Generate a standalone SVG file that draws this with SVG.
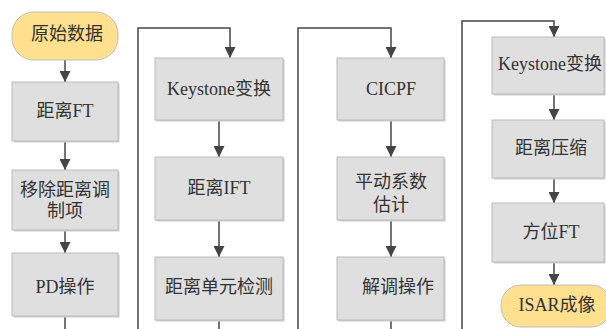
<svg xmlns="http://www.w3.org/2000/svg" width="606" height="329" viewBox="0 0 606 329">
<style>
.box{fill:#dfdfdf;stroke:#bcbcbc;stroke-width:1}
.sh{fill:#cdcdcd}
.term{fill:#ffe08e;stroke:#bdbdbd;stroke-width:1}
.t{font-family:"Liberation Serif","Noto Sans CJK SC",serif;font-size:18px;fill:#333;text-anchor:middle;dominant-baseline:central}
.c{fill:none;stroke:#444;stroke-width:1.5}
</style>
<defs>
<marker id="ah" markerUnits="userSpaceOnUse" markerWidth="11" markerHeight="11" refX="11" refY="5.5" orient="auto">
<path d="M0,0 L11,5.5 L0,11 z" fill="#444"/>
</marker>
</defs>
<rect width="606" height="329" fill="#fff"/>
<g id="connectors">
<path class="c" d="M65 60 V82" marker-end="url(#ah)"/>
<path class="c" d="M65 141 V170" marker-end="url(#ah)"/>
<path class="c" d="M65 230 V253" marker-end="url(#ah)"/>
<path class="c" d="M65 316 V329"/>
<path class="c" d="M138 329 V28 H230 V58" marker-end="url(#ah)"/>
<path class="c" d="M219 120 V157" marker-end="url(#ah)"/>
<path class="c" d="M219 220 V257" marker-end="url(#ah)"/>
<path class="c" d="M219 320 V329"/>
<path class="c" d="M298 329 V28 H391 V58" marker-end="url(#ah)"/>
<path class="c" d="M391 120 V157" marker-end="url(#ah)"/>
<path class="c" d="M391 220 V257" marker-end="url(#ah)"/>
<path class="c" d="M391 320 V329"/>
<path class="c" d="M462 329 V21 H554 V37" marker-end="url(#ah)"/>
<path class="c" d="M554 94 V120" marker-end="url(#ah)"/>
<path class="c" d="M554 178 V203" marker-end="url(#ah)"/>
<path class="c" d="M554 262 V285" marker-end="url(#ah)"/>
</g>
<g id="n1"><rect class="term" x="12" y="12" width="106" height="48" rx="22"/><text class="t" x="67" y="34">原始数据</text></g>
<g id="n2"><rect class="sh" x="13.5" y="83.5" width="106" height="59"/><rect class="box" x="12" y="82" width="106" height="59"/><text class="t" x="65" y="111">距离FT</text></g>
<g id="n3"><rect class="sh" x="13.5" y="171.5" width="106" height="60"/><rect class="box" x="12" y="170" width="106" height="60"/><text class="t" x="65" y="190">移除距离调</text><text class="t" x="65" y="211">制项</text></g>
<g id="n4"><rect class="sh" x="13.5" y="254.5" width="106" height="63"/><rect class="box" x="12" y="253" width="106" height="63"/><text class="t" x="65" y="287">PD操作</text></g>
<g id="n5"><rect class="sh" x="156.5" y="59.5" width="128" height="62"/><rect class="box" x="155" y="58" width="128" height="62"/><text class="t" x="219" y="89">Keystone变换</text></g>
<g id="n6"><rect class="sh" x="156.5" y="158.5" width="128" height="63"/><rect class="box" x="155" y="157" width="128" height="63"/><text class="t" x="219" y="188">距离IFT</text></g>
<g id="n7"><rect class="sh" x="156.5" y="258.5" width="128" height="63"/><rect class="box" x="155" y="257" width="128" height="63"/><text class="t" x="219" y="287">距离单元检测</text></g>
<g id="n8"><rect class="sh" x="338.5" y="59.5" width="107" height="62"/><rect class="box" x="337" y="58" width="107" height="62"/><text class="t" x="391" y="89">CICPF</text></g>
<g id="n9"><rect class="sh" x="338.5" y="158.5" width="107" height="63"/><rect class="box" x="337" y="157" width="107" height="63"/><text class="t" x="391" y="182">平动系数</text><text class="t" x="391" y="205">估计</text></g>
<g id="n10"><rect class="sh" x="338.5" y="258.5" width="107" height="63"/><rect class="box" x="337" y="257" width="107" height="63"/><text class="t" x="398" y="287">解调操作</text></g>
<g id="n11"><rect class="sh" x="493.5" y="38.5" width="112" height="57"/><rect class="box" x="492" y="37" width="112" height="57"/><text class="t" x="550" y="64">Keystone变换</text></g>
<g id="n12"><rect class="sh" x="493.5" y="121.5" width="112" height="58"/><rect class="box" x="492" y="120" width="112" height="58"/><text class="t" x="551" y="148">距离压缩</text></g>
<g id="n13"><rect class="sh" x="493.5" y="204.5" width="112" height="59"/><rect class="box" x="492" y="203" width="112" height="59"/><text class="t" x="551" y="232">方位FT</text></g>
<g id="n14"><rect class="term" x="501" y="285" width="110" height="42" rx="20"/><text class="t" x="557" y="305">ISAR成像</text></g>
</svg>
